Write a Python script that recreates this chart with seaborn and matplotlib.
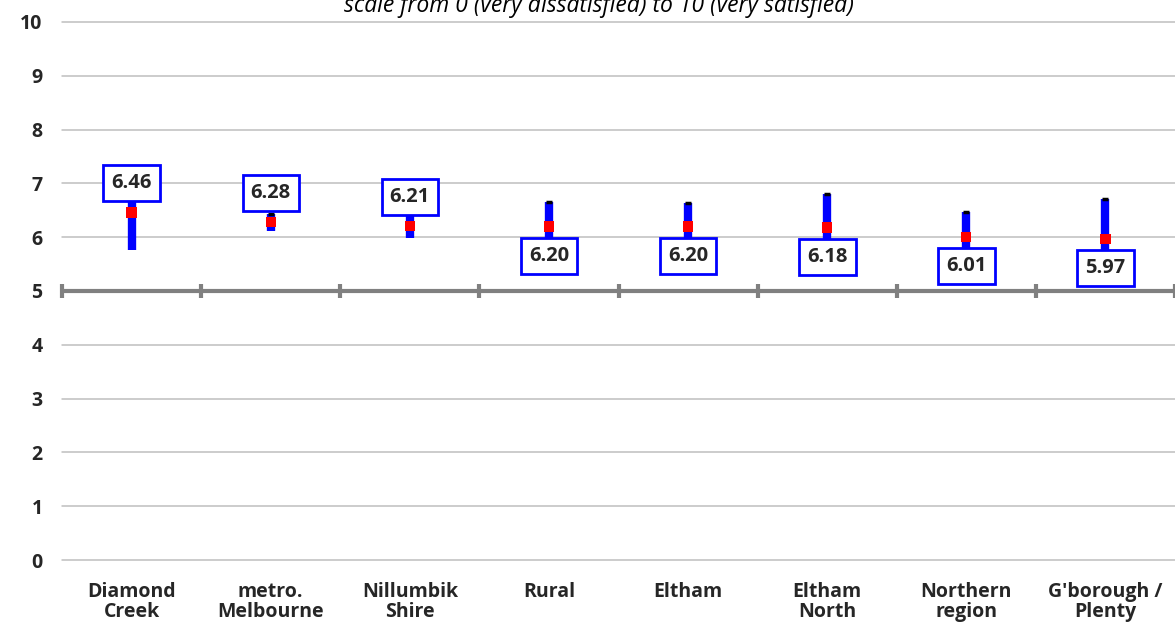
import numpy as np
import pandas as pd
import matplotlib
matplotlib.use("Agg")
import matplotlib.pyplot as plt
import seaborn as sns

# --- data ---
areas = ["Diamond\nCreek", "metro.\nMelbourne", "Nillumbik\nShire", "Rural",
         "Eltham", "Eltham\nNorth", "Northern\nregion", "G'borough /\nPlenty"]
mean_score = [6.46, 6.28, 6.21, 6.20, 6.20, 6.18, 6.01, 5.97]
ci_low = [5.77, 6.12, 5.98, 5.75, 5.77, 5.56, 5.55, 5.23]
ci_high = [7.15, 6.44, 6.44, 6.65, 6.63, 6.80, 6.47, 6.71]
label_side = ["above", "above", "above", "below", "below", "below", "below", "below"]
y_ticks = list(range(0, 11))
subtitle = "scale from 0 (very dissatisfied) to 10 (very satisfied)"

df = pd.DataFrame({"area": areas, "mean": mean_score, "low": ci_low, "high": ci_high})
x = np.arange(len(df))

sns.set_style("white")
plt.rcParams["font.family"] = ["Open Sans", "DejaVu Sans"]

fig = plt.figure(figsize=(11.75, 6.26), dpi=100)
ax = fig.add_axes([0.0528, 0.1054, 0.9472, 0.8595])

# grid lines
for yv in y_ticks:
    ax.axhline(yv, color="#bfbfbf", lw=1.1, zorder=0, clip_on=False)

# axis line crossing at 5 with tick marks between categories
ax.axhline(5, color="#808080", lw=3, zorder=1)
for b in np.arange(-0.5, len(df), 1.0):
    ax.plot([b, b], [4.87, 5.13], color="#808080", lw=3, solid_capstyle="butt",
            zorder=1, clip_on=False)

# confidence interval bars
ax.vlines(x, df["low"], df["high"], color="#0000ff", lw=6, zorder=2)
ax.plot(x, df["high"], ls="none", marker="_", color="black", ms=5, mew=2.5, zorder=3)

# mean points
sns.scatterplot(x=x, y=df["mean"], marker="s", color="red", s=55,
                edgecolor="none", zorder=4, ax=ax)

# value labels
for xi, val, side in zip(x, mean_score, label_side):
    dy = 21 if side == "above" else -21
    ax.annotate(f"{val:.2f}", (xi, val), xytext=(0, dy), textcoords="offset points",
                ha="center", va="center", fontsize=14.5, fontweight="bold", zorder=5,
                bbox=dict(boxstyle="square,pad=0.4", fc="white", ec="#0000ff", lw=2))

ax.set_xlim(-0.5, len(df) - 0.5)
ax.set_ylim(0, 10)
ax.set_yticks(y_ticks)
ax.set_yticklabels([str(t) for t in y_ticks], fontsize=14, fontweight="bold")
ax.set_xticks(x)
ax.set_xticklabels(areas, fontsize=14, fontweight="bold", linespacing=1.0)
ax.tick_params(axis="both", length=0)
ax.tick_params(axis="y", pad=14)
ax.tick_params(axis="x", pad=16)
ax.set_xlabel("")
ax.set_ylabel("")
for s in ax.spines.values():
    s.set_visible(False)

fig.text(0.51, 0.981, subtitle, ha="center", va="baseline", fontsize=16.5,
         style="italic", color="black")

fig.savefig("out.png", dpi=100)
